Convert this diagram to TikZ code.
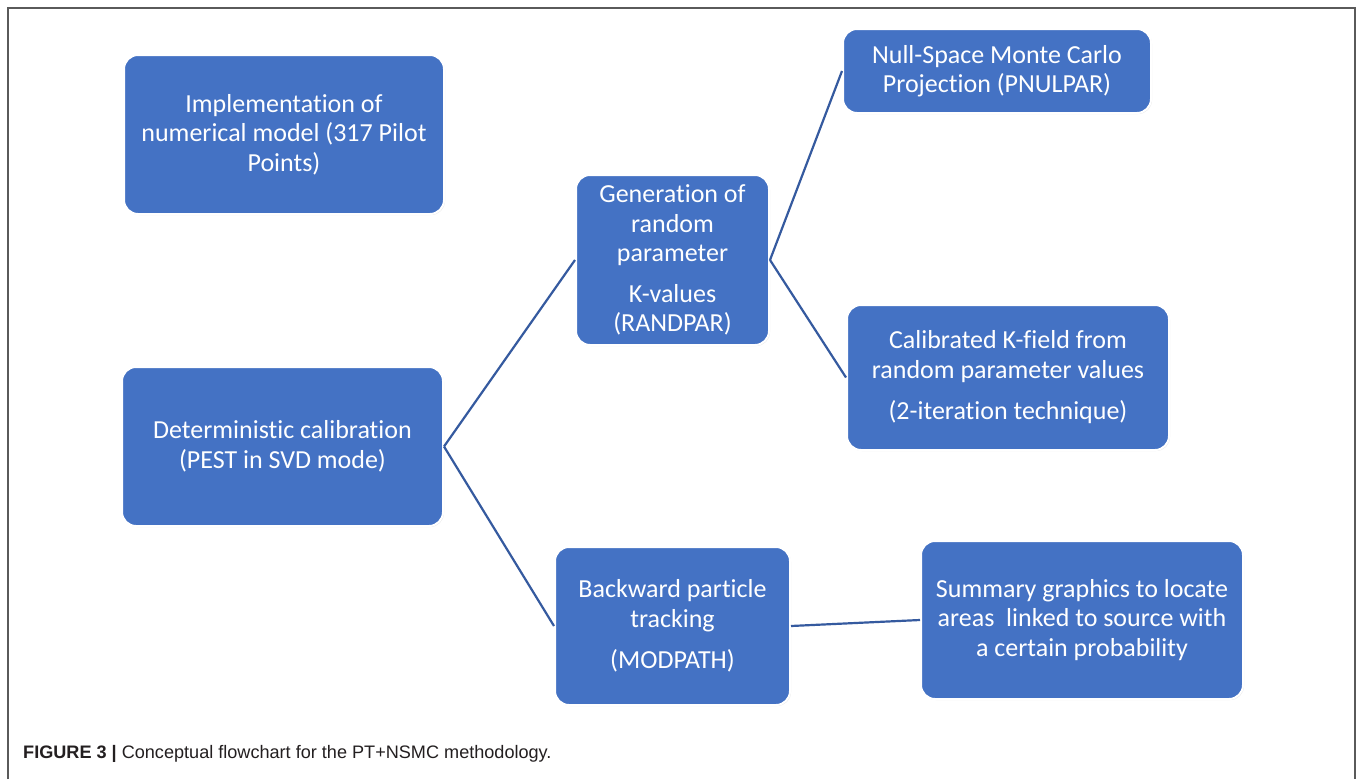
\documentclass[tikz,border=0pt]{standalone}
\usepackage{fontspec}
\setmainfont{Liberation Sans}
\newfontfamily\carlito[Ligatures=CommonOff]{Carlito}
\usetikzlibrary{shadows}
\definecolor{boxblue}{HTML}{4472C4}
\definecolor{linkblue}{HTML}{355A9F}
\definecolor{framegray}{HTML}{5A5A5A}
\definecolor{captxt}{HTML}{231F20}
\tikzset{
  box/.style={rectangle, rounded corners=14pt, fill=boxblue, draw=white, line width=2pt,
    text=white, font=\carlito\fontsize{26}{29.5}\selectfont, align=center, inner sep=0pt,
    drop shadow={opacity=0.18, shadow xshift=1pt, shadow yshift=-1pt}},
  link/.style={draw=linkblue, line width=2.2pt},
  framestyle/.style={draw=framegray, line width=1.6pt}
}
\begin{document}
\begin{tikzpicture}[x=1pt,y=1pt]
\useasboundingbox (0,0) rectangle (1357,-779);
\fill[white] (0,0) rectangle (1357,-779);
\draw[framestyle] (8,-779) -- (8,-8) -- (1355,-8) -- (1355,-779);

\node[box, minimum width=320pt, minimum height=159pt] (impl) at (284,-134.5)
  {Implementation of\\numerical model (317 Pilot\\Points)};
\node[box, minimum width=321pt, minimum height=159pt] (det) at (282.5,-446.5)
  {Deterministic calibration\\(PEST in SVD mode)};
\node[box, minimum width=193pt, minimum height=170pt] (gen) at (672.5,-260)
  {Generation of\\random\\parameter\\[11pt]K-values\\(RANDPAR)};
\node[box, minimum width=308pt, minimum height=84pt] (null) at (997,-71)
  {Null-Space Monte Carlo\\Projection (PNULPAR)};
\node[box, minimum width=322pt, minimum height=145pt] (cal) at (1008,-377.5)
  {Calibrated K-field from\\random parameter values\\[12pt](2-iteration technique)};
\node[box, minimum width=235pt, minimum height=158pt] (back) at (672.5,-626)
  {Backward particle\\tracking\\[12pt](MODPATH)};
\node[box, minimum width=322pt, minimum height=158pt] (sum) at (1082,-620)
  {Summary graphics to locate\\areas\ \ linked to source with\\a certain probability};

\draw[link] (det.east) -- (gen.west);
\draw[link] (det.east) -- (back.west);
\draw[link] (gen.east) -- (null.west);
\draw[link] (gen.east) -- (cal.west);
\draw[link] (back.east) -- (sum.west);

\node[anchor=base west, inner sep=0pt, text=captxt, font=\fontsize{18.1}{21}\selectfont] (cap) at (23,-758)
  {\textbf{FIGURE 3 |} Conceptual flowchart for the PT+NSMC methodology.};
\end{tikzpicture}
\end{document}
